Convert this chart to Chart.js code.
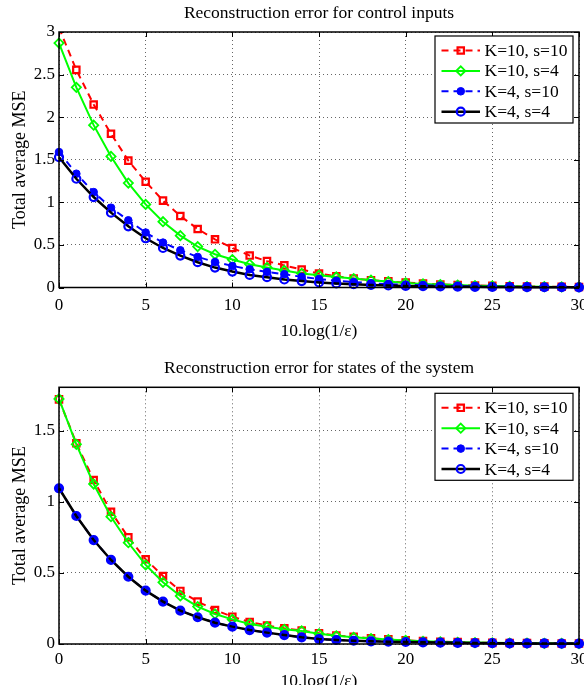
<!DOCTYPE html>
<html>
<head>
<meta charset="utf-8">
<script src="https://cdn.jsdelivr.net/npm/chart.js@4.4.1/dist/chart.umd.min.js"></script>
<style>
    html, body { margin: 0; padding: 0; background: #fff; overflow: hidden; }
    .panel { position: absolute; left: 0; }
    #topPanel { top: 0; }
    #bottomPanel { top: 343px; }
</style>
</head>
<body>
<div class="panel" id="topPanel"><canvas id="inputsChart" width="600" height="343"></canvas></div>
<div class="panel" id="bottomPanel"><canvas id="statesChart" width="600" height="350"></canvas></div>
<script>
const epsDb = [0, 1, 2, 3, 4, 5, 6, 7, 8, 9, 10, 11, 12, 13, 14, 15, 16, 17, 18, 19, 20, 21, 22, 23, 24, 25, 26, 27, 28, 29, 30];
const seriesLabels = ['K=10, s=10', 'K=10, s=4', 'K=4, s=10', 'K=4, s=4'];

// control inputs
const inputsK10s10 = [3.05, 2.555, 2.148, 1.805, 1.49, 1.242, 1.02, 0.84, 0.687, 0.566, 0.464, 0.375, 0.31, 0.26, 0.21, 0.164, 0.132, 0.105, 0.086, 0.072, 0.058, 0.047, 0.036, 0.03, 0.024, 0.019, 0.015, 0.012, 0.01, 0.008, 0.006];
const inputsK10s4 = [2.87, 2.35, 1.906, 1.539, 1.226, 0.976, 0.773, 0.609, 0.48, 0.39, 0.328, 0.273, 0.235, 0.2, 0.165, 0.144, 0.124, 0.105, 0.086, 0.07, 0.054, 0.042, 0.034, 0.028, 0.022, 0.018, 0.014, 0.011, 0.009, 0.007, 0.006];
const inputsK4s10 = [1.59, 1.336, 1.12, 0.937, 0.789, 0.645, 0.527, 0.437, 0.359, 0.3, 0.253, 0.215, 0.183, 0.156, 0.125, 0.1, 0.08, 0.064, 0.05, 0.04, 0.032, 0.026, 0.02, 0.016, 0.013, 0.01, 0.008, 0.006, 0.005, 0.004, 0.003];
const inputsK4s4 = [1.53, 1.277, 1.062, 0.879, 0.718, 0.578, 0.464, 0.375, 0.297, 0.234, 0.187, 0.148, 0.121, 0.094, 0.075, 0.06, 0.048, 0.038, 0.03, 0.024, 0.019, 0.015, 0.012, 0.01, 0.008, 0.006, 0.005, 0.004, 0.003, 0.003, 0.002];

// states of the system
const statesK10s10 = [1.72, 1.411, 1.153, 0.93, 0.75, 0.596, 0.478, 0.373, 0.298, 0.239, 0.192, 0.155, 0.13, 0.11, 0.095, 0.075, 0.06, 0.05, 0.04, 0.033, 0.026, 0.02, 0.016, 0.013, 0.01, 0.008, 0.007, 0.006, 0.005, 0.004, 0.003];
const statesK10s4 = [1.723, 1.404, 1.125, 0.895, 0.712, 0.556, 0.434, 0.338, 0.263, 0.211, 0.173, 0.141, 0.122, 0.103, 0.092, 0.072, 0.058, 0.047, 0.038, 0.031, 0.025, 0.019, 0.015, 0.012, 0.01, 0.008, 0.007, 0.006, 0.005, 0.004, 0.003];
const statesK4s10 = [1.095, 0.9, 0.731, 0.591, 0.473, 0.375, 0.298, 0.234, 0.188, 0.15, 0.122, 0.098, 0.08, 0.063, 0.047, 0.035, 0.028, 0.023, 0.019, 0.016, 0.014, 0.012, 0.01, 0.008, 0.007, 0.006, 0.005, 0.004, 0.004, 0.003, 0.003];
const statesK4s4 = [1.095, 0.9, 0.731, 0.591, 0.473, 0.375, 0.298, 0.234, 0.188, 0.15, 0.122, 0.098, 0.08, 0.063, 0.047, 0.035, 0.028, 0.023, 0.019, 0.016, 0.014, 0.012, 0.01, 0.008, 0.007, 0.006, 0.005, 0.004, 0.004, 0.003, 0.003];

const xTicks = [0, 5, 10, 15, 20, 25, 30];

const SERIF = "'Liberation Serif', 'Times New Roman', serif";

// legend marker, same shapes as chart.js point styles
function drawMarker(ctx, ds, x, y) {
    const r = ds.pointRadius;
    ctx.beginPath();
    if (ds.pointStyle === 'rect') {
        const s = Math.SQRT1_2 * r;
        ctx.rect(x - s, y - s, 2 * s, 2 * s);
    } else if (ds.pointStyle === 'rectRot') {
        ctx.moveTo(x - r, y); ctx.lineTo(x, y - r);
        ctx.lineTo(x + r, y); ctx.lineTo(x, y + r);
        ctx.closePath();
    } else {
        ctx.arc(x, y, r, 0, Math.PI * 2);
    }
    ctx.fillStyle = ds.pointBackgroundColor;
    ctx.fill();
    ctx.strokeStyle = ds.pointBorderColor;
    ctx.lineWidth = ds.pointBorderWidth;
    ctx.stroke();
}

// Box, inward ticks, title and legend drawn like MATLAB
const matlabFrame = {
    id: 'matlabFrame',
    afterDatasetsDraw(chart, args, opts) {
        const { ctx, chartArea: a, scales: { x, y } } = chart;
        ctx.save();

        ctx.fillStyle = '#000';
        ctx.font = `17.5px ${SERIF}`;
        ctx.textAlign = 'center';
        ctx.textBaseline = 'alphabetic';
        ctx.fillText(opts.title, (a.left + a.right) / 2, a.top - opts.titleGap);

        ctx.strokeStyle = '#000';
        ctx.lineWidth = 1;
        ctx.beginPath();
        x.ticks.forEach(t => {
            const px = Math.round(x.getPixelForValue(t.value)) + 0.5;
            ctx.moveTo(px, a.bottom); ctx.lineTo(px, a.bottom - 5);
            ctx.moveTo(px, a.top); ctx.lineTo(px, a.top + 5);
        });
        y.ticks.forEach(t => {
            const py = Math.round(y.getPixelForValue(t.value)) + 0.5;
            ctx.moveTo(a.left, py); ctx.lineTo(a.left + 5, py);
            ctx.moveTo(a.right, py); ctx.lineTo(a.right - 5, py);
        });
        ctx.stroke();
        ctx.lineWidth = 1.5;
        ctx.strokeRect(a.left, a.top, a.right - a.left, a.bottom - a.top);

        // legend
        const lx = a.right - 144, ly = a.top + opts.legendGap, lw = 138, lh = 87;
        ctx.fillStyle = '#fff';
        ctx.fillRect(lx, ly, lw, lh);
        ctx.lineWidth = 1.2;
        ctx.strokeStyle = '#000';
        ctx.strokeRect(lx, ly, lw, lh);
        chart.data.datasets.forEach((ds, i) => {
            const cy = ly + 14.5 + i * 20.4;
            const x0 = lx + 6.5, x1 = lx + 45;
            ctx.strokeStyle = ds.borderColor;
            ctx.lineWidth = ds.borderWidth;
            ctx.setLineDash(ds.borderDash || []);
            ctx.beginPath();
            ctx.moveTo(x0, cy); ctx.lineTo(x1, cy);
            ctx.stroke();
            ctx.setLineDash([]);
            drawMarker(ctx, ds, (x0 + x1) / 2, cy);
            ctx.fillStyle = '#000';
            ctx.font = `17.5px ${SERIF}`;
            ctx.textAlign = 'left';
            ctx.textBaseline = 'middle';
            ctx.fillText(ds.label, lx + 49.5, cy + 1);
        });

        ctx.restore();
    }
};

function makeDatasets(k10s10, k10s4, k4s10, k4s4) {
    const pts = arr => arr.map((v, i) => ({ x: epsDb[i], y: v }));
    const clip = { left: 8, top: 0, right: 8, bottom: 8 };
    return [
        {
            label: seriesLabels[0], data: pts(k10s10), order: 4, clip,
            borderColor: '#ff0000', borderWidth: 2, borderDash: [7, 5],
            pointStyle: 'rect', pointRadius: 4.5, pointBorderWidth: 2.2,
            pointBorderColor: '#ff0000', pointBackgroundColor: 'rgba(0,0,0,0)'
        },
        {
            label: seriesLabels[1], data: pts(k10s4), order: 3, clip,
            borderColor: '#00ff00', borderWidth: 2,
            pointStyle: 'rectRot', pointRadius: 4.6, pointBorderWidth: 1.8,
            pointBorderColor: '#00ff00', pointBackgroundColor: 'rgba(0,0,0,0)'
        },
        {
            label: seriesLabels[2], data: pts(k4s10), order: 2, clip,
            borderColor: '#0000ff', borderWidth: 2, borderDash: [7, 5],
            pointStyle: 'circle', pointRadius: 3.8, pointBorderWidth: 1,
            pointBorderColor: '#0000ff', pointBackgroundColor: '#0000ff'
        },
        {
            label: seriesLabels[3], data: pts(k4s4), order: 1, clip,
            borderColor: '#000000', borderWidth: 2.5,
            pointStyle: 'circle', pointRadius: 4, pointBorderWidth: 2.2,
            pointBorderColor: '#0000ff', pointBackgroundColor: 'rgba(0,0,0,0)'
        }
    ];
}

function makeChart(canvasId, cfg) {
    const canvas = document.getElementById(canvasId);
    const h = canvas.height;
    return new Chart(canvas.getContext('2d'), {
        type: 'line',
        data: { datasets: makeDatasets(...cfg.series) },
        plugins: [matlabFrame],
        options: {
            responsive: false,
            animation: false,
            events: [],
            layout: { padding: { left: 0, right: 21, top: cfg.areaTop, bottom: 0 } },
            elements: { line: { tension: 0 } },
            plugins: {
                legend: { display: false },
                tooltip: { enabled: false },
                matlabFrame: { title: cfg.title, titleGap: 14, legendGap: cfg.legendGap }
            },
            scales: {
                x: {
                    type: 'linear', min: 0, max: 30,
                    afterBuildTicks: s => { s.ticks = xTicks.map(v => ({ value: v })); },
                    afterFit: s => { s.height = h - cfg.areaBottom; s.paddingLeft = 0; s.paddingRight = 0; },
                    grid: { color: '#666', lineWidth: 1, drawTicks: false },
                    border: { display: false, dash: [1, 3] },
                    ticks: {
                        color: '#000', padding: cfg.xTickPad, maxRotation: 0,
                        font: { family: SERIF, size: 17 }, callback: v => String(v)
                    },
                    title: {
                        display: true, text: '10.log(1/ε)', color: '#000',
                        font: { family: SERIF, size: 17.5, lineHeight: 1 },
                        padding: { top: 0, bottom: cfg.xTitlePad }
                    }
                },
                y: {
                    type: 'linear', min: 0, max: cfg.yMax,
                    afterBuildTicks: s => { s.ticks = cfg.yTicks.map(v => ({ value: v })); },
                    afterFit: s => { s.width = 59; s.paddingTop = 0; s.paddingBottom = 0; },
                    grid: { color: '#666', lineWidth: 1, drawTicks: false },
                    border: { display: false, dash: [1, 3] },
                    ticks: {
                        color: '#000', padding: 4,
                        font: { family: SERIF, size: 17 }, callback: v => String(v)
                    },
                    title: {
                        display: true, text: 'Total average MSE', color: '#000',
                        font: { family: SERIF, size: 18, lineHeight: 1 },
                        padding: { top: 11, bottom: 0 }
                    }
                }
            }
        }
    });
}

makeChart('inputsChart', {
    title: 'Reconstruction error for control inputs',
    series: [inputsK10s10, inputsK10s4, inputsK4s10, inputsK4s4],
    yMax: 3, yTicks: [0, 0.5, 1, 1.5, 2, 2.5, 3],
    areaTop: 32, areaBottom: 287.5, legendGap: 4, xTickPad: 8, xTitlePad: 3
});

makeChart('statesChart', {
    title: 'Reconstruction error for states of the system',
    series: [statesK10s10, statesK10s4, statesK4s10, statesK4s4],
    yMax: 1.805, yTicks: [0, 0.5, 1, 1.5],
    areaTop: 44.3, areaBottom: 301, legendGap: 6, xTickPad: 5, xTitlePad: 3
});
</script>
</body>
</html>
